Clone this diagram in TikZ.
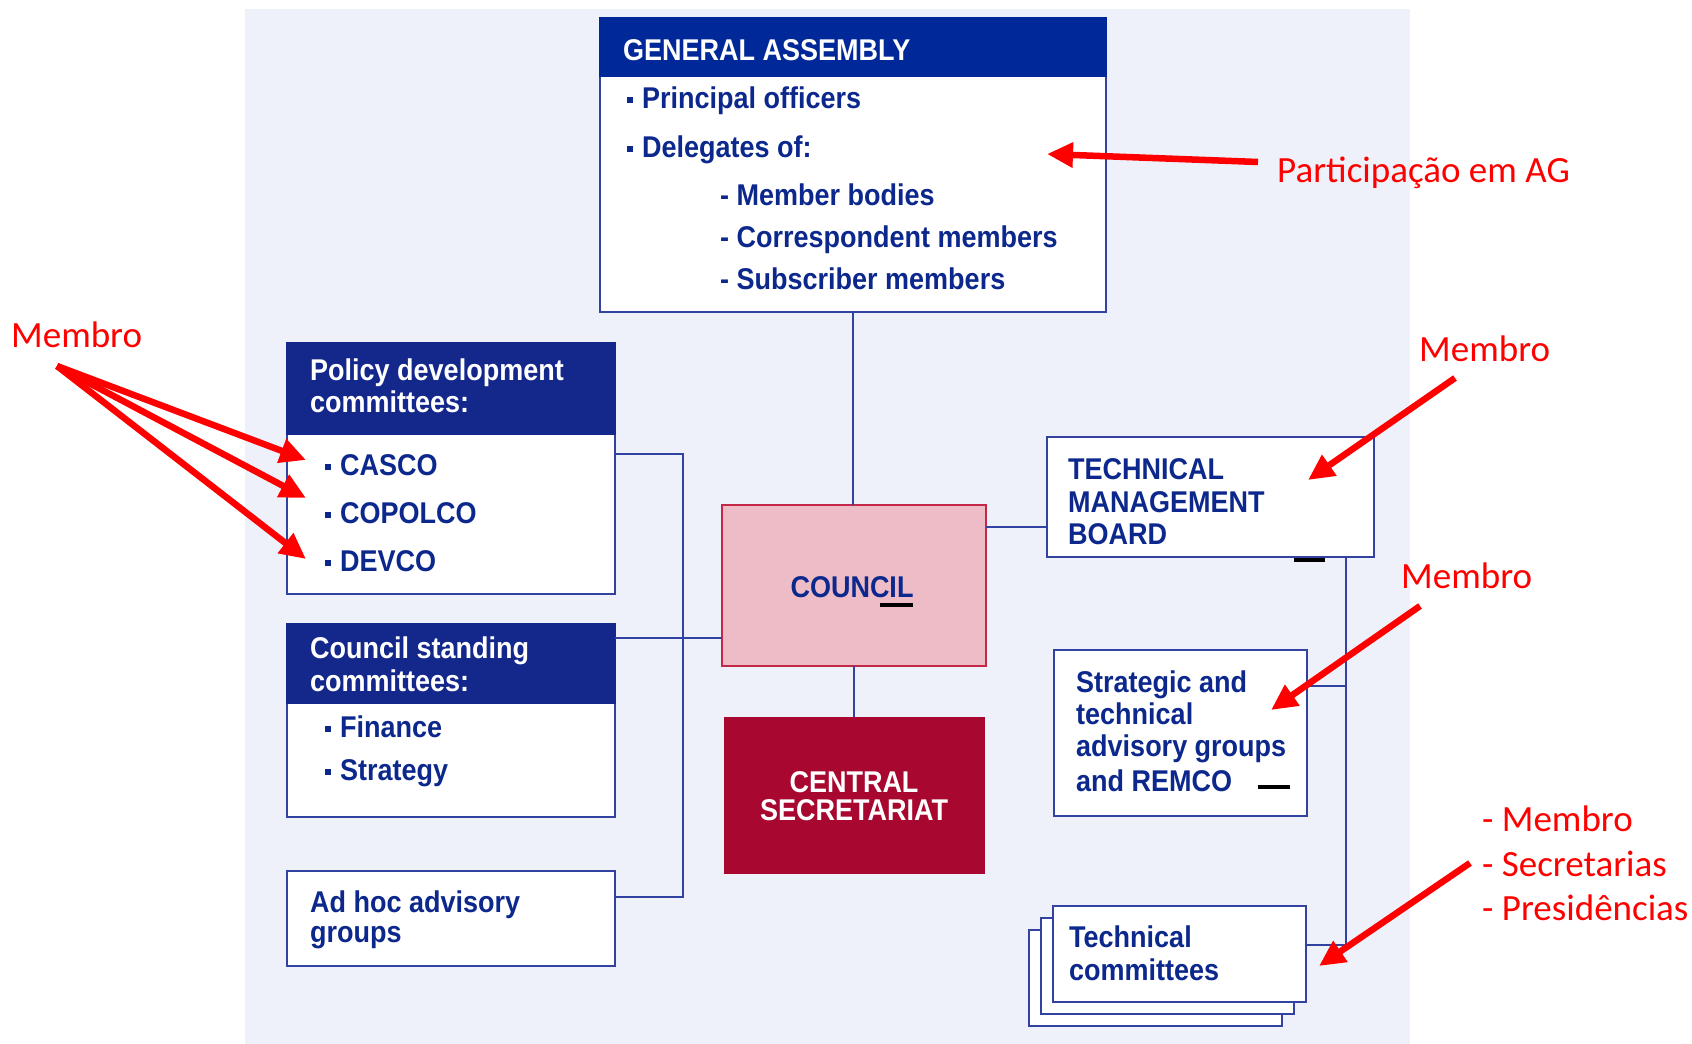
\documentclass[tikz,border=0pt]{standalone}
\usepackage{fontspec}
\setmainfont{Liberation Sans}
\newfontfamily\isofont{Liberation Sans}[FakeStretch=0.9]
\newfontfamily\annfont{Carlito}
\usetikzlibrary{arrows.meta}
\definecolor{panel}{RGB}{238,241,249}
\definecolor{gahead}{RGB}{0,40,152}
\definecolor{cmhead}{RGB}{20,40,140}
\definecolor{isoblue}{RGB}{12,40,140}
\definecolor{bordblue}{RGB}{50,66,160}
\definecolor{councilfill}{RGB}{238,188,198}
\definecolor{councilbord}{RGB}{196,40,72}
\definecolor{csfill}{RGB}{168,8,48}
\definecolor{annred}{RGB}{255,0,0}
\newcommand\sqb{\rule[5pt]{6pt}{6pt}\hspace{9pt}}
\tikzset{
  boxw/.style={draw=bordblue, line width=2pt, fill=white, inner sep=0pt, outer sep=0pt, anchor=north west},
  headbox/.style={draw=#1, fill=#1, line width=2pt, inner sep=0pt, outer sep=0pt, anchor=north west},
  bt/.style={anchor=base west, inner sep=0pt, text=isoblue, font=\isofont\bfseries\fontsize{30}{34}\selectfont},
  wt/.style={bt, text=white},
  conn/.style={draw=bordblue, line width=2pt},
  rt/.style={anchor=base west, inner sep=0pt, text=annred, font=\annfont\fontsize{37}{44}\selectfont},
  rarrow/.style={draw=annred, line width=6.5pt, -{Triangle[length=26pt,width=24pt]}},
  blackbar/.style={draw=black, line width=4pt}
}
\begin{document}
\begin{tikzpicture}[x=1pt,y=-1pt]
\useasboundingbox (0,0) rectangle (1692,1044);
\fill[white] (0,0) rectangle (1692,1044);
\fill[panel] (245,9) rectangle (1410,1044);

% General Assembly
\node[boxw, minimum width=506pt, minimum height=294pt] (ga) at (600,18) {};
\node[headbox=gahead, minimum width=506pt, minimum height=58pt] (gah) at (600,18) {};
\node[wt] (gat) at (623,60) {GENERAL ASSEMBLY};
\node[bt] (ga1) at (627,108) {\sqb Principal officers};
\node[bt] (ga2) at (627,157) {\sqb Delegates of:};
\node[bt] (ga3) at (720,205) {- Member bodies};
\node[bt] (ga4) at (720,247) {- Correspondent members};
\node[bt] (ga5) at (720,289) {- Subscriber members};

% Policy development committees
\node[boxw, minimum width=328pt, minimum height=251pt] (pol) at (287,343) {};
\node[headbox=cmhead, minimum width=328pt, minimum height=91pt] (polh) at (287,343) {};
\node[wt] (polt1) at (310,380) {Policy development};
\node[wt] (polt2) at (310,412) {committees:};
\node[bt] (casco) at (325,475) {\sqb CASCO};
\node[bt] (copolco) at (325,523) {\sqb COPOLCO};
\node[bt] (devco) at (325,571) {\sqb DEVCO};

% Council standing committees
\node[boxw, minimum width=328pt, minimum height=193pt] (csc) at (287,624) {};
\node[headbox=cmhead, minimum width=328pt, minimum height=79pt] (csch) at (287,624) {};
\node[wt] (csct1) at (310,658) {Council standing};
\node[wt] (csct2) at (310,691) {committees:};
\node[bt] (fin) at (325,737) {\sqb Finance};
\node[bt] (strg) at (325,780) {\sqb Strategy};

% Ad hoc advisory groups
\node[boxw, minimum width=328pt, minimum height=95pt] (adhoc) at (287,871) {};
\node[bt] (adhoc1) at (310,912) {Ad hoc advisory};
\node[bt] (adhoc2) at (310,942) {groups};

% Council
\node[draw=councilbord, fill=councilfill, line width=2pt, inner sep=0pt, outer sep=0pt, anchor=north west, minimum width=264pt, minimum height=161pt] (council) at (722,505) {};
\node[bt, anchor=base] (councilt) at (852,597) {COUNCIL};

% Central Secretariat
\node[fill=csfill, inner sep=0pt, outer sep=0pt, anchor=north west, minimum width=261pt, minimum height=157pt] (cs) at (724,717) {};
\node[wt, anchor=base] (cst1) at (854,792) {CENTRAL};
\node[wt, anchor=base] (cst2) at (854,820) {SECRETARIAT};

% Technical Management Board
\node[boxw, minimum width=327pt, minimum height=120pt] (tmb) at (1047,437) {};
\node[bt] (tmb1) at (1068,479) {TECHNICAL};
\node[bt] (tmb2) at (1068,512) {MANAGEMENT};
\node[bt] (tmb3) at (1068,544) {BOARD};

% Strategic and technical advisory groups
\node[boxw, minimum width=253pt, minimum height=166pt] (stag) at (1054,650) {};
\node[bt] (stag1) at (1076,692) {Strategic and};
\node[bt] (stag2) at (1076,724) {technical};
\node[bt] (stag3) at (1076,756) {advisory groups};
\node[bt] (stag4) at (1076,791) {and REMCO};

% Technical committees (stack)
\node[boxw, minimum width=253pt, minimum height=96pt] (tc3) at (1029,930) {};
\node[boxw, minimum width=253pt, minimum height=96pt] (tc2) at (1041,918) {};
\node[boxw, minimum width=253pt, minimum height=96pt] (tc) at (1053,906) {};
\node[bt] (tc1t) at (1069,947) {Technical};
\node[bt] (tc2t) at (1069,980) {committees};

% connectors
\coordinate (lbtop) at (683,454);
\coordinate (lbbot) at (683,897);
\coordinate (lcl) at (683,638);
\coordinate (rtm) at (1010,527);
\coordinate (rbtop) at (1346,557);
\coordinate (rbst) at (1346,686);
\coordinate (rbbot) at (1346,945);
\draw[conn] (ga.south) -- (ga.south |- council.north);
\draw[conn] (council.south) -- (council.south |- cs.north);
\draw[conn] (pol.east |- lbtop) -- (lbtop) -- (lbbot) -- (adhoc.east |- lbbot);
\draw[conn] (csc.east |- lcl) -- (council.west |- lcl);
\draw[conn] (council.east |- rtm) -- (tmb.west |- rtm);
\draw[conn] (rbtop) -- (rbbot);
\draw[conn] (stag.east |- rbst) -- (rbst);
\draw[conn] (tc.east |- rbbot) -- (rbbot);

% small black bars
\draw[blackbar] (880,605) -- (913,605);
\draw[blackbar] (1294,560) -- (1325,560);
\draw[blackbar] (1258,787) -- (1290,787);

% annotations
\node[rt] (partic) at (1277,182) {Participação em AG};
\node[rt] (membl) at (11,347) {Membro};
\node[rt] (membr) at (1419,361) {Membro};
\node[rt] (membm) at (1401,588) {Membro};
\node[rt] (lst1) at (1482,831) {- Membro};
\node[rt] (lst2) at (1482,876) {- Secretarias};
\node[rt] (lst3) at (1482,920) {- Presidências};

\coordinate (pa0) at (1258,162);
\coordinate (pa1) at (1047,154);
\coordinate (ml0) at (57,366);
\coordinate (ml1) at (306,460);
\coordinate (ml2) at (306,498);
\coordinate (ml3) at (306,559);
\coordinate (mr0) at (1455,378);
\coordinate (mr1) at (1308,480);
\coordinate (mm0) at (1420,606);
\coordinate (mm1) at (1271,710);
\coordinate (mb0) at (1470,863);
\coordinate (mb1) at (1319,966);
\draw[rarrow] (pa0) -- (pa1);
\draw[rarrow] (ml0) -- (ml1);
\draw[rarrow] (ml0) -- (ml2);
\draw[rarrow] (ml0) -- (ml3);
\draw[rarrow] (mr0) -- (mr1);
\draw[rarrow] (mm0) -- (mm1);
\draw[rarrow] (mb0) -- (mb1);
\end{tikzpicture}
\end{document}
